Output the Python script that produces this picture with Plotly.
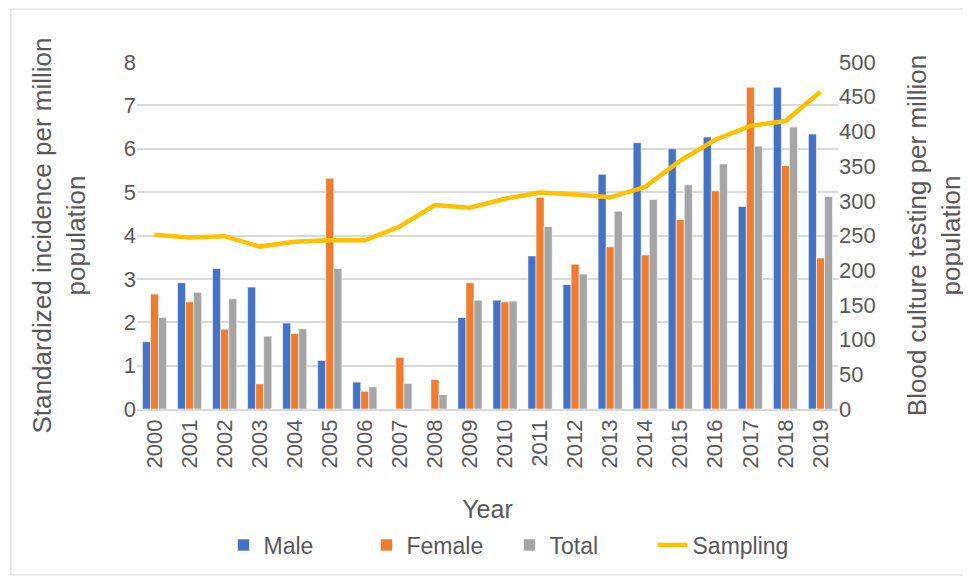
import plotly.graph_objects as go

years = [str(y) for y in range(2000, 2020)]
male = [1.55, 2.91, 3.24, 2.81, 1.98, 1.12, 0.62, 0, 0, 2.11, 2.51, 3.53, 2.87, 5.41, 6.14, 6.00, 6.27, 4.67, 7.42, 6.34]
female = [2.65, 2.47, 1.84, 0.58, 1.74, 5.32, 0.41, 1.19, 0.68, 2.91, 2.47, 4.88, 3.34, 3.74, 3.55, 4.37, 5.03, 7.42, 5.61, 3.48]
total = [2.11, 2.69, 2.54, 1.68, 1.85, 3.24, 0.51, 0.59, 0.33, 2.51, 2.49, 4.21, 3.11, 4.56, 4.83, 5.17, 5.65, 6.06, 6.50, 4.90]
sampling = [251, 247, 249, 234, 241, 243, 243, 263, 294, 290, 303, 312, 309, 305, 320, 358, 388, 408, 415, 457]

FONT = "Liberation Sans, Arial, sans-serif"
GREY = "#595959"

fig = go.Figure()
fig.add_trace(go.Bar(x=years, y=male, name="Male", marker=dict(color="#4472C4", line=dict(width=0.6, color="white"))))
fig.add_trace(go.Bar(x=years, y=female, name="Female", marker=dict(color="#ED7D31", line=dict(width=0.6, color="white"))))
fig.add_trace(go.Bar(x=years, y=total, name="Total", marker=dict(color="#A5A5A5", line=dict(width=0.6, color="white"))))
fig.add_trace(go.Scatter(x=years, y=sampling, name="Sampling", mode="lines", yaxis="y2",
                         line=dict(color="#FFC000", width=4.5)))

# page body has an 8px margin; figure sized to fit the window exactly
OFF = 8
W, H = 971 - OFF, 578 - OFF
L, T = 137 - OFF, 62 - OFF
pw, ph = 701, 347
R, B = W - L - pw, H - T - ph

fig.update_layout(
    width=W, height=H,
    margin=dict(l=L, r=R, t=T, b=B, autoexpand=False),
    paper_bgcolor="white", plot_bgcolor="white",
    font=dict(family=FONT, color=GREY, size=22),
    barmode="group", bargap=0.31, bargroupgap=0,
    xaxis=dict(type="category", tickangle=-90, tickfont=dict(size=22, color=GREY),
               showline=True, linecolor="#D9D9D9", linewidth=1.5, ticks="", automargin=False,
               title=dict(text="Year", font=dict(size=25, color=GREY), standoff=50)),
    yaxis=dict(range=[0, 8], dtick=1, showgrid=True, gridcolor="#D9D9D9", gridwidth=1.5,
               zeroline=False, tickfont=dict(size=22, color=GREY), ticks="", automargin=False,
               title=dict(text="Standardized incidence per million<br>population",
                          font=dict(size=26, color=GREY), standoff=30)),
    yaxis2=dict(range=[0, 500], dtick=50, overlaying="y", side="right", showgrid=False,
                zeroline=False, tickfont=dict(size=22, color=GREY), ticks="", automargin=False,
                title=dict(text="Blood culture testing per million<br>population",
                           font=dict(size=26, color=GREY), standoff=33)),
    legend=dict(orientation="h", x=0.5 + 20 / W, xanchor="center", xref="container",
                y=1 - (545 - OFF) / H, yanchor="middle", yref="container",
                font=dict(size=23, color=GREY), entrywidth=98, entrywidthmode="pixels",
                traceorder="normal", bgcolor="rgba(0,0,0,0)"),
    showlegend=True,
)

# outer chart frame
fig.add_shape(type="rect", xref="paper", yref="paper",
              x0=(11 - OFF - L) / pw, x1=(970 - OFF - L) / pw,
              y0=-((575 - OFF) - T - ph) / ph, y1=1 + (T - (9 - OFF)) / ph,
              line=dict(color="#D9D9D9", width=1.2), fillcolor="rgba(0,0,0,0)", layer="below")

fig.write_html("out.html")
